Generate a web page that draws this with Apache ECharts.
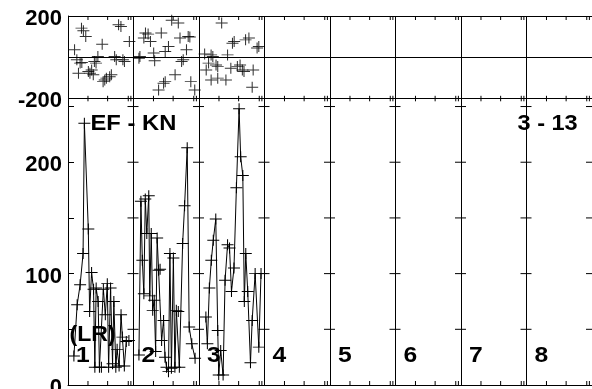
<!DOCTYPE html>
<html><head><meta charset="utf-8">
<script src="https://cdn.jsdelivr.net/npm/echarts@6/dist/echarts.min.js"></script>
<style>html,body{margin:0;padding:0;background:#fff}#c{width:592px;height:389px}</style>
</head><body><div id="c"></div>
<script>
// ---- data ----
const segLabels = ['1','2','3','4','5','6','7','8'];
const segWidth = 10;                       // x units per segment
const minorTickOffsets = [3.05, 6.05, 9.2, 9.6];
const topYMin = -200, topYMax = 200, topYStep = 200;
const botYTicks = [50, 100, 150, 200, 250];
const botYMax = 257.4;
const botZeroLabel = 0;

// upper panel: scatter (+)
const topSeg1 = [[2.06,141],[2.35,128],[2.71,100],[7.72,157],[8.08,149],[9.37,76],[5.22,63],[1.0,36],[1.35,-13],[1.85,-29],[4.03,-21],[4.28,-29],[4.56,3],[7.12,3],[7.37,-13],[8.38,-13],[8.62,-21],[1.60,-78],[3.11,-70],[3.61,-62],[3.86,-86],[3.35,-78],[2.11,-26],[5.61,-111],[5.86,-102],[6.36,-95],[6.62,-86],[5.36,-119]];
const topSeg2 = [[11.83,117],[12.23,112],[11.58,93],[12.59,76],[14.24,117],[15.83,179],[16.84,166],[18.35,100],[18.60,98],[17.10,93],[15.34,52],[14.84,27],[18.09,36],[10.83,-5],[10.98,3],[13.08,20],[13.23,-18],[17.34,-21],[17.59,-13],[16.35,-86],[14.84,-119],[14.59,-127],[13.83,-160],[18.75,-119],[19.35,-160]];
const topSeg3 = [[23.46,166],[27.11,84],[27.62,93],[25.11,68],[25.37,76],[28.87,44],[29.13,52],[21.85,11],[22.11,3],[20.86,15],[24.36,11],[21.10,-62],[21.46,-29],[22.60,-38],[22.86,-46],[21.85,-111],[22.86,-102],[24.11,-111],[24.86,-54],[25.86,-46],[26.27,-38],[26.62,-62],[26.87,-70],[28.27,-62],[28.12,-146]];

// lower panel: line with (+)
const botSeg1 = [[0.9,26],[1.4,72],[1.85,90],[2.3,118],[2.5,235],[3.1,140],[3.3,66],[3.6,101],[3.9,86],[4.1,16],[4.3,87],[4.6,75],[4.8,16],[5.1,16],[5.4,86],[5.7,63],[6.0,91],[6.2,16],[6.5,87],[6.8,19],[7.0,75],[7.3,16],[7.5,32],[7.8,17],[8.1,63],[8.3,43],[8.6,17],[8.9,39],[9.3,40]];
const botSeg2 = [[10.83,27],[11.13,165],[11.35,112],[11.58,82],[11.80,167],[12.03,136],[12.33,170],[12.48,80],[12.71,136],[12.93,67],[13.16,76],[13.38,30],[13.61,132],[13.83,103],[14.06,104],[14.29,40],[14.59,58],[14.81,25],[15.04,16],[15.34,12],[15.56,118],[15.79,15],[16.09,114],[16.32,16],[16.54,67],[16.84,66],[17.0,16],[17.5,127],[17.8,161],[18.2,213],[18.5,52],[18.9,37],[19.4,24]];
const botSeg3 = [[21.05,61],[21.28,37],[21.58,87],[21.88,112],[22.18,130],[22.56,149],[22.86,49],[23.01,9],[23.31,31],[23.68,9],[23.98,94],[24.36,126],[24.66,123],[24.96,84],[25.34,105],[25.71,177],[26.12,248],[26.36,205],[26.69,188],[26.92,75],[27.14,118],[27.44,84],[27.86,20],[28.12,58],[28.57,100],[29.13,34],[29.47,100]];

// ---- build ----
const nSeg = segLabels.length;
const xMax = nSeg * segWidth;
const FONT = '"Liberation Sans", Arial, sans-serif';
const plus = 'path://M0,5L10,5M5,0L5,10';
const markStyle = {color: 'rgba(0,0,0,0)', borderColor: '#000', borderWidth: 1};

const minorTicks = [];
for (let k = 0; k < nSeg; k++) minorTickOffsets.forEach(o => minorTicks.push([k * segWidth + o, 0]));
const dividerTicks = [];
for (let k = 1; k <= nSeg; k++) botYTicks.forEach(v => dividerTicks.push([k * segWidth, v]));
const segLabelData = segLabels.map((s, i) => [i * segWidth, 0]);

const ln = (x1, y1, x2, y2) => ({type: 'line', shape: {x1, y1, x2, y2}, style: {stroke: '#000', lineWidth: 1}});

const xAxisBase = {type: 'value', min: 0, max: xMax, interval: segWidth,
  axisLabel: {show: false}, axisTick: {show: false},
  splitLine: {show: true, lineStyle: {color: '#000', width: 1}}};
const richLab = {t: {color: '#000', fontSize: 22, fontWeight: 'bold', fontFamily: FONT, padding: [6, 0, 0, 0]}};
const labelBase = {color: '#000', fontSize: 22, fontWeight: 'bold', fontFamily: FONT, margin: 6, rich: richLab};

const chart = echarts.init(document.getElementById('c'));
chart.setOption({
  animation: false,
  backgroundColor: '#fff',
  grid: [
    {left: 68, top: 16, width: 532, height: 82.3},
    {left: 68, top: 98.3, width: 532, height: 286.7}
  ],
  xAxis: [
    Object.assign({gridIndex: 0, axisLine: {show: false}}, xAxisBase),
    Object.assign({gridIndex: 1, axisLine: {show: true, onZero: false, lineStyle: {color: '#000', width: 1}}}, xAxisBase)
  ],
  yAxis: [
    {gridIndex: 0, type: 'value', min: topYMin, max: topYMax, interval: topYStep,
      axisLine: {show: true, lineStyle: {color: '#000'}}, axisTick: {show: false},
      splitLine: {show: true, lineStyle: {color: '#000', width: 1}},
      axisLabel: Object.assign({formatter: v => v === 0 ? '' : '{t|' + v + '}'}, labelBase)},
    {gridIndex: 1, type: 'value', min: 0, max: botYMax, interval: 50,
      axisLine: {show: true, lineStyle: {color: '#000'}},
      axisTick: {show: true, inside: true, length: 6, lineStyle: {color: '#000'}},
      splitLine: {show: false},
      axisLabel: Object.assign({formatter: v => (v % 100 === 0 && v !== 0) ? '{t|' + v + '}' : ''}, labelBase)}
  ],
  graphic: [
    {type: 'text', x: 90.5, y: 124, scaleX: 1.08, style: {text: 'EF - KN', font: 'bold 22px ' + FONT, fill: '#000', verticalAlign: 'middle'}, z: 100},
    {type: 'text', x: 517.5, y: 123.5, scaleX: 1.07, style: {text: '3 - 13', font: 'bold 22px ' + FONT, fill: '#000', verticalAlign: 'middle'}, z: 100},
    {type: 'text', x: 69.5, y: 335, scaleX: 1.05, style: {text: '(LR)', font: 'bold 22px ' + FONT, fill: '#000', verticalAlign: 'middle'}, z: 100}
  ],
  series: [
    ...[topSeg1, topSeg2, topSeg3].map(d => ({type: 'scatter', xAxisIndex: 0, yAxisIndex: 0, data: d,
      symbol: plus, symbolSize: [12, 11], itemStyle: markStyle, silent: true})),
    ...[botSeg1, botSeg2, botSeg3].map(d => ({type: 'line', xAxisIndex: 1, yAxisIndex: 1, data: d,
      symbol: plus, symbolSize: [12, 11], showAllSymbol: true, itemStyle: markStyle,
      lineStyle: {color: '#000', width: 1}, silent: true})),
    {type: 'custom', xAxisIndex: 0, yAxisIndex: 0, data: minorTicks, clip: false, silent: true,
      renderItem(params, api) {
        const x = api.value(0);
        const t = api.coord([x, topYMax]);
        const b = api.coord([x, topYMin]);
        return {type: 'group', children: [ln(t[0], t[1], t[0], t[1] + 4), ln(b[0], b[1] - 2.5, b[0], b[1] + 3)]};
      }},
    {type: 'custom', xAxisIndex: 1, yAxisIndex: 1, data: minorTicks, clip: false, silent: true,
      renderItem(params, api) {
        const p = api.coord([api.value(0), 0]);
        return ln(p[0], p[1] - 4, p[0], p[1]);
      }},
    {type: 'custom', xAxisIndex: 1, yAxisIndex: 1, data: dividerTicks, clip: false, silent: true,
      renderItem(params, api) {
        const p = api.coord([api.value(0), api.value(1)]);
        return ln(p[0] - 6, p[1], p[0] + 5, p[1]);
      }},
    {type: 'custom', xAxisIndex: 1, yAxisIndex: 1, data: [[0, botZeroLabel]], clip: false, silent: true, z: 10,
      renderItem(params, api) {
        const p = api.coord([api.value(0), api.value(1)]);
        return {type: 'text', x: p[0] - 6, y: p[1] + 3,
          style: {text: String(botZeroLabel), font: 'bold 22px ' + FONT, fill: '#000', align: 'right', verticalAlign: 'middle'}};
      }},
    {type: 'custom', xAxisIndex: 1, yAxisIndex: 1, data: segLabelData, clip: false, silent: true, z: 10,
      renderItem(params, api) {
        const p = api.coord([api.value(0), 0]);
        return {type: 'text', x: p[0] + 8, y: p[1] - 29, scaleX: 1.12,
          style: {text: segLabels[params.dataIndex], font: 'bold 22px ' + FONT, fill: '#000', verticalAlign: 'middle'}};
      }}
  ]
});
</script></body></html>
